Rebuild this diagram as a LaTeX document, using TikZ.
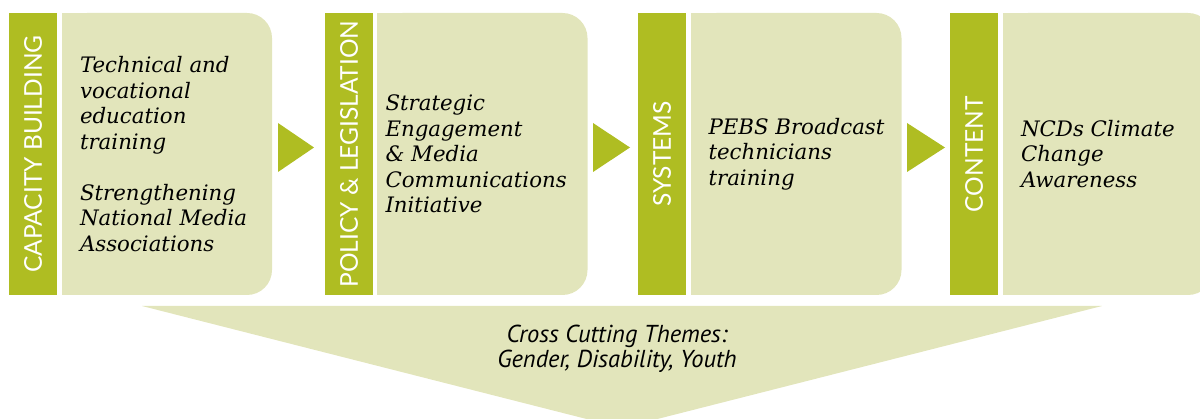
\documentclass[tikz,border=0pt]{standalone}
\usepackage{fontspec}
\usepackage{tikz}
\usetikzlibrary{positioning}

\newfontfamily\slabfont{DejaVu Serif}
\newfontfamily\tagfont{Lato}
\newfontfamily\themefont{PT Sans}
\definecolor{olivebar}{HTML}{AFBD22}
\definecolor{sagecard}{HTML}{E2E5BB}

\begin{document}
\begin{tikzpicture}[x=1pt, y=-1pt,
    bar/.style={fill=olivebar, text=white, rotate=90, minimum width=282pt, minimum height=48pt,
                inner sep=0, font=\tagfont\fontsize{24.5}{27}\selectfont},
    card/.style={fill=sagecard, rounded corners=25pt, minimum width=210pt, minimum height=282pt, inner sep=0},
    body/.style={font=\slabfont\itshape\fontsize{21.3}{25.5}\selectfont, align=left, inner sep=0},
    pointer/.style={fill=olivebar}]
    \useasboundingbox (0,0) rectangle (1200,419);
    \clip (0,0) rectangle (1200,419);

    % cross cutting wedge
    \fill[sagecard] (142,306) -- (1102,306) -- (622,428) -- cycle;
    \node[font=\themefont\itshape\fontsize{24.5}{25}\selectfont, align=center] (themes) at (617,349)
        {Cross Cutting Themes:\\Gender, Disability, Youth};

    % stages
    \node[bar] (cap) at (33,154) {CAPACITY BUILDING};
    \node[card] (card1) at (167,154) {};
    \fill[sagecard] (card1.north west) rectangle (card1.south);
    \node[body, right=18pt of card1.west] (txt1)
        {Technical and\\vocational\\education\\training\\[25.5pt]Strengthening\\National Media\\Associations};

    \node[bar] (pol) at (349,154) {POLICY \& LEGISLATION};
    \node[card] (card2) at (482.5,154) {};
    \fill[sagecard] (card2.north west) rectangle (card2.south);
    \node[body, right=8pt of card2.west] (txt2)
        {Strategic\\Engagement\\\& Media\\Communications\\Initiative};

    \node[bar] (sys) at (662,154) {SYSTEMS};
    \node[card] (card3) at (796.5,154) {};
    \fill[sagecard] (card3.north west) rectangle (card3.south);
    \node[body, right=17pt of card3.west] (txt3)
        {PEBS Broadcast\\technicians\\training};

    \node[bar] (con) at (974,154) {CONTENT};
    \node[card] (card4) at (1108,154) {};
    \fill[sagecard] (card4.north west) rectangle (card4.south);
    \node[body, right=18pt of card4.west] (txt4)
        {NCDs Climate\\Change\\Awareness};

    % arrow heads between stages
    \fill[pointer] (278,123) -- (314,147.5) -- (278,172) -- cycle;
    \fill[pointer] (593,123) -- (630,147.5) -- (593,172) -- cycle;
    \fill[pointer] (907,123) -- (945,147.5) -- (907,172) -- cycle;
\end{tikzpicture}
\end{document}
